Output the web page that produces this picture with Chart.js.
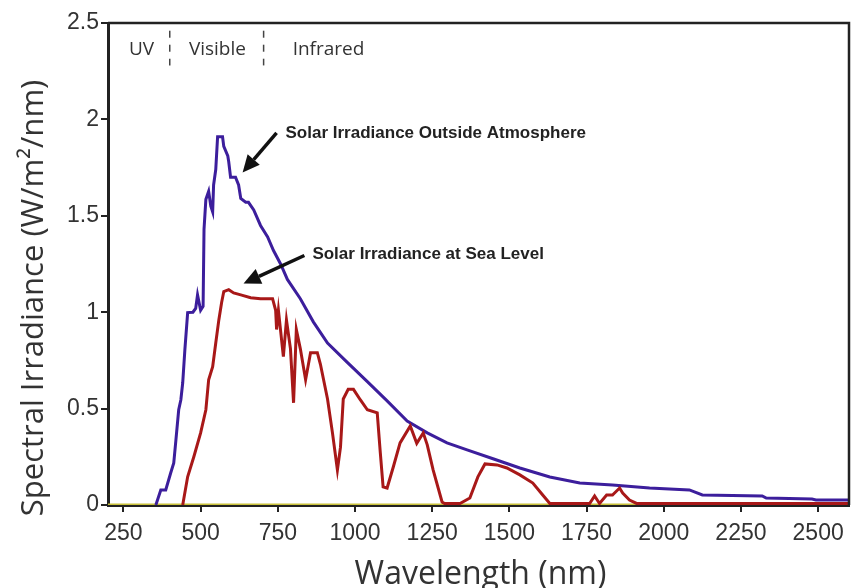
<!DOCTYPE html>
<html>
<head>
<meta charset="utf-8">
<script src="https://cdn.jsdelivr.net/npm/chart.js@4.4.1/dist/chart.umd.min.js"></script>
<style>
  html, body { margin: 0; padding: 0; background: #fff; }
  canvas { display: block; }
</style>
</head>
<body>
<canvas id="chart" width="853" height="588"></canvas>
<script>
// wavelengths (nm) and irradiance (W/m2/nm)
const outsideWl = [355, 371, 387, 403, 413, 420, 429, 436, 442, 449, 458, 475, 484, 490, 500, 508, 511, 517, 526, 533,
  539, 542, 549, 555, 571, 575, 588, 591, 597, 613, 623, 630, 646, 655, 672, 694, 717, 736, 759, 781,
  823, 865, 911, 975, 1040, 1104, 1169, 1234, 1298, 1363, 1447, 1534, 1631, 1728, 1834, 1954, 2083, 2125,
  2319, 2332, 2480, 2493, 2600];
const outsideVal = [0, 0.078, 0.078, 0.166, 0.218, 0.338, 0.494, 0.546, 0.634, 0.806, 0.998, 1.0, 1.02, 1.09, 1.01, 1.03, 1.43, 1.585, 1.627, 1.55,
  1.52, 1.66, 1.74, 1.91, 1.91, 1.86, 1.81, 1.78, 1.70, 1.70, 1.66, 1.59, 1.57, 1.57, 1.53, 1.45, 1.39, 1.32, 1.25, 1.17,
  1.07, 0.95, 0.84, 0.74, 0.64, 0.54, 0.435, 0.374, 0.322, 0.286, 0.24, 0.192, 0.145, 0.114, 0.104, 0.088, 0.078, 0.052,
  0.047, 0.036, 0.031, 0.026, 0.026];

const seaWl = [442, 458, 478, 500, 517, 526, 539, 549, 559, 568, 575, 591, 607, 630, 662, 694, 733, 743, 746, 752,
  768, 778, 791, 801, 810, 823, 840, 856, 878, 888, 911, 927, 943, 953, 962, 978, 995, 1017, 1040, 1072,
  1082, 1091, 1104, 1124, 1146, 1179, 1200, 1221, 1234, 1253, 1282, 1290, 1340, 1372, 1398, 1421, 1460, 1492, 1534, 1576,
  1608, 1631, 1760, 1776, 1792, 1815, 1834, 1857, 1867, 1889, 1912, 2600];
const seaVal = [0, 0.146, 0.25, 0.374, 0.494, 0.65, 0.717, 0.84, 0.96, 1.05, 1.107, 1.117, 1.10, 1.09, 1.075, 1.07, 1.07, 1.01, 0.91, 1.01,
  0.77, 0.96, 0.81, 0.53, 0.91, 0.81, 0.65, 0.79, 0.79, 0.73, 0.55, 0.374, 0.182, 0.30, 0.55, 0.60, 0.60, 0.546, 0.494, 0.478,
  0.27, 0.094, 0.088, 0.197, 0.322, 0.41, 0.32, 0.374, 0.312, 0.182, 0.016, 0.008, 0.008, 0.036, 0.146, 0.213, 0.208, 0.192, 0.156, 0.114,
  0.052, 0.008, 0.008, 0.047, 0.008, 0.052, 0.052, 0.088, 0.062, 0.026, 0.008, 0.008];

const baseWl = [200, 2600];
const baseVal = [0.003, 0.003];

const xTicks = [250, 500, 750, 1000, 1250, 1500, 1750, 2000, 2250, 2500];
const yTicks = [0, 0.5, 1, 1.5, 2, 2.5];

const toPoints = (xs, ys) => xs.map((x, i) => ({ x: x, y: ys[i] }));

const titleFont = '"Open Sans", "Noto Sans", sans-serif';
const tickFont = { family: '"Liberation Sans", Arial, sans-serif', size: 23 };

// arrows, labels and band markers, in data units
const drawExtras = {
  id: 'drawExtras',
  afterDraw(chart) {
    const ctx = chart.ctx;
    const a = chart.chartArea;
    const xs = chart.scales.x, ys = chart.scales.y;
    const px = v => xs.getPixelForValue(v);
    const py = v => ys.getPixelForValue(v);

    ctx.save();
    // top and right frame
    ctx.strokeStyle = '#222';
    ctx.lineWidth = 2.5;
    ctx.beginPath();
    ctx.moveTo(a.left, a.top);
    ctx.lineTo(a.right, a.top);
    ctx.lineTo(a.right, a.bottom);
    ctx.stroke();

    // spectrum bands
    ctx.fillStyle = '#333';
    ctx.font = '19px ' + titleFont;
    ctx.textBaseline = 'middle';
    ctx.textAlign = 'left';
    ctx.fillText('UV', px(268), py(2.36));
    ctx.fillText('Visible', px(462), py(2.36));
    ctx.fillText('Infrared', px(798), py(2.36));
    ctx.strokeStyle = '#444';
    ctx.lineWidth = 1.5;
    ctx.setLineDash([7, 7]);
    [400, 704].forEach(w => {
      ctx.beginPath();
      ctx.moveTo(px(w), py(2.46));
      ctx.lineTo(px(w), py(2.28));
      ctx.stroke();
    });
    ctx.setLineDash([]);

    // callouts
    ctx.font = 'bold 17px "Liberation Sans", Arial, sans-serif';
    ctx.fillStyle = '#222';
    ctx.fillText('Solar Irradiance Outside Atmosphere', px(775), py(1.93));
    ctx.fillText('Solar Irradiance at Sea Level', px(862), py(1.30));
    arrow(ctx, px(746), py(1.93), px(636), py(1.725));
    arrow(ctx, px(836), py(1.294), px(639), py(1.149));

    // axis titles
    ctx.fillStyle = '#333';
    ctx.textAlign = 'center';
    ctx.textBaseline = 'alphabetic';
    ctx.font = '32px ' + titleFont;
    ctx.fillText('Wavelength (nm)', (a.left + a.right) / 2 + 2, 584);
    ctx.translate(43, 298);
    ctx.rotate(-Math.PI / 2);
    ctx.font = '31px ' + titleFont;
    ctx.fillText('Spectral Irradiance (W/m\u00B2/nm)', 0, 0);
    ctx.restore();
  }
};

function arrow(ctx, x1, y1, x2, y2) {
  const ang = Math.atan2(y2 - y1, x2 - x1);
  const len = 17, half = 8;
  const bx = x2 - len * Math.cos(ang), by = y2 - len * Math.sin(ang);
  ctx.strokeStyle = '#111';
  ctx.fillStyle = '#111';
  ctx.lineWidth = 3.5;
  ctx.beginPath();
  ctx.moveTo(x1, y1);
  ctx.lineTo(bx, by);
  ctx.stroke();
  ctx.beginPath();
  ctx.moveTo(x2, y2);
  ctx.lineTo(bx + half * Math.sin(ang), by - half * Math.cos(ang));
  ctx.lineTo(bx - half * Math.sin(ang), by + half * Math.cos(ang));
  ctx.closePath();
  ctx.fill();
}

new Chart(document.getElementById('chart'), {
  type: 'scatter',
  data: {
    datasets: [
      {
        label: 'Solar Irradiance Outside Atmosphere',
        data: toPoints(outsideWl, outsideVal),
        showLine: true,
        borderColor: '#3c1e9c',
        borderWidth: 3,
        pointRadius: 0,
        order: 2
      },
      {
        label: 'Solar Irradiance at Sea Level',
        data: toPoints(seaWl, seaVal),
        showLine: true,
        borderColor: '#a81818',
        borderWidth: 3,
        pointRadius: 0,
        order: 1
      },
      {
        label: 'baseline',
        data: toPoints(baseWl, baseVal),
        showLine: true,
        borderColor: '#c8c03a',
        borderWidth: 2,
        pointRadius: 0,
        order: 3
      }
    ]
  },
  options: {
    responsive: false,
    animation: false,
    devicePixelRatio: 1,
    layout: { padding: { top: 23, right: 4, left: 0, bottom: 0 } },
    plugins: {
      legend: { display: false },
      tooltip: { enabled: false }
    },
    scales: {
      x: {
        type: 'linear',
        min: 200,
        max: 2600,
        afterBuildTicks: s => { s.ticks = xTicks.map(v => ({ value: v })); },
        afterFit: s => { s.height = 83; },
        border: { display: true, color: '#222', width: 3 },
        grid: { drawOnChartArea: false, drawTicks: true, tickLength: 7, color: '#222', lineWidth: 2 },
        ticks: { font: tickFont, color: '#333', padding: 8, maxRotation: 0, autoSkip: false, callback: v => String(v) }
      },
      y: {
        min: 0,
        max: 2.5,
        afterBuildTicks: s => { s.ticks = yTicks.map(v => ({ value: v })); },
        afterFit: s => { s.width = 108; },
        border: { display: true, color: '#222', width: 3 },
        grid: { drawOnChartArea: false, drawTicks: true, tickLength: 7, color: '#222', lineWidth: 2 },
        ticks: { font: tickFont, color: '#333', padding: 2, callback: v => String(v) }
      }
    }
  },
  plugins: [drawExtras]
});
</script>
</body>
</html>
